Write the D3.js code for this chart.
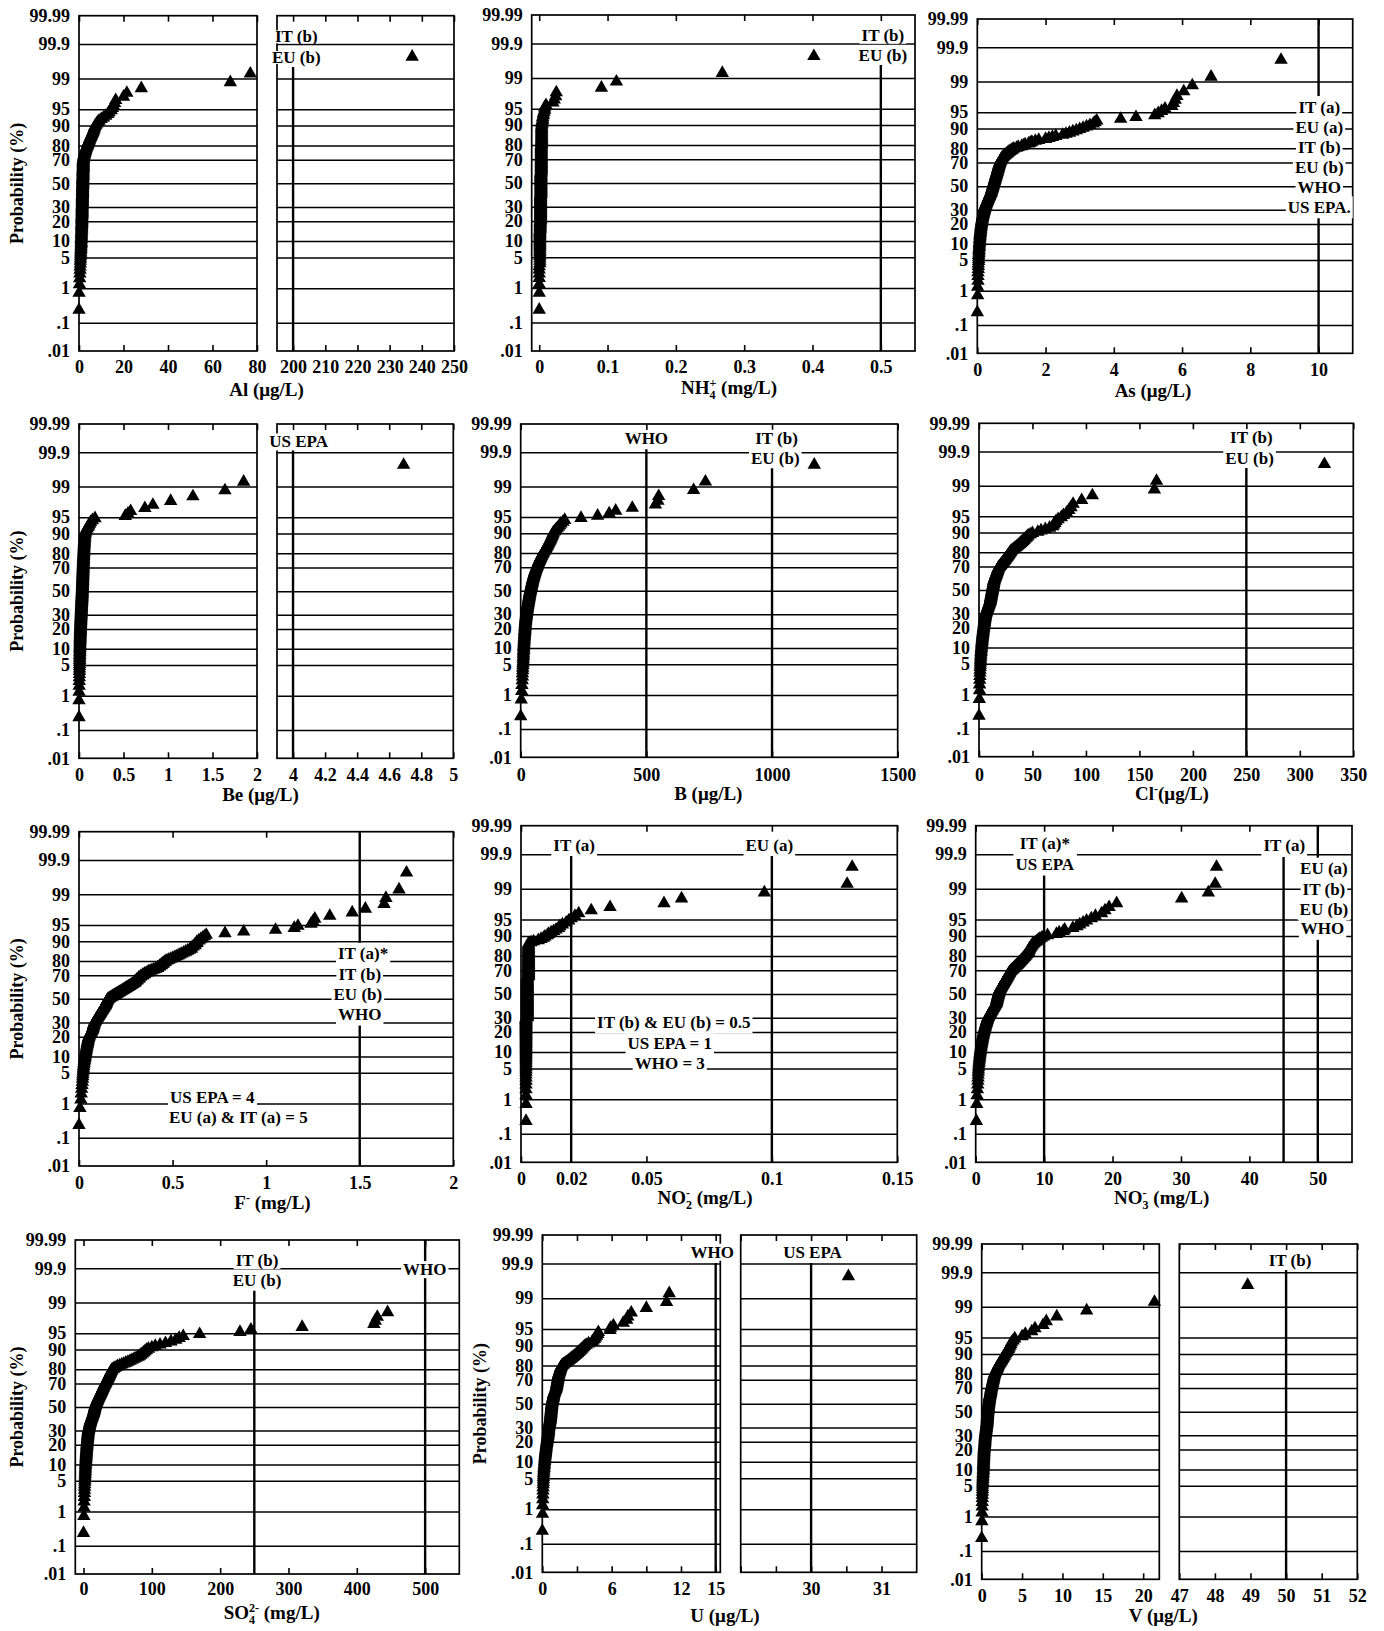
<!DOCTYPE html>
<html lang="en">
<head>
<meta charset="UTF-8">
<title>Normal probability plots</title>
<script src="https://cdnjs.cloudflare.com/ajax/libs/d3/7.8.5/d3.min.js"></script>
<style>
  body { margin: 0; background: #fff; }
  svg text { font-family: "Liberation Serif", "DejaVu Serif", serif; font-weight: bold; fill: #000; }
  .grid line { stroke: #000; stroke-width: 1.5; }
  .tickmark line { stroke: #000; stroke-width: 1.6; }
  .frame { fill: none; stroke: #000; stroke-width: 1.7; }
  .limit { stroke: #000; stroke-width: 2.4; }
</style>
</head>
<body>
<div id="chart"></div>
<script>
// probability axis
const probTicks = [0.01, 0.1, 1, 5, 10, 20, 30, 50, 70, 80, 90, 95, 99, 99.9, 99.99];
const probTickLabels = [".01", ".1", "1", "5", "10", "20", "30", "50", "70", "80", "90", "95", "99", "99.9", "99.99"];

// sorted sample values, 200 samples per parameter
const alValues = [
  0,0.05,0.2,0.3,0.4,0.5,0.5,0.6,0.6,0.7, 0.7,0.8,0.8,0.8,0.9,0.9,0.9,1.0,1.0,1.0,
  1.0,1.0,1.0,1.1,1.1,1.1,1.1,1.1,1.1,1.2, 1.2,1.2,1.2,1.2,1.2,1.2,1.2,1.3,1.3,1.3,
  1.3,1.3,1.3,1.3,1.3,1.3,1.3,1.3,1.4,1.4, 1.4,1.4,1.4,1.4,1.4,1.4,1.4,1.4,1.4,1.4,
  1.4,1.4,1.4,1.5,1.5,1.5,1.5,1.5,1.5,1.5, 1.5,1.5,1.5,1.5,1.5,1.5,1.5,1.5,1.5,1.5,
  1.6,1.6,1.6,1.6,1.6,1.6,1.6,1.6,1.6,1.6, 1.6,1.6,1.6,1.6,1.6,1.6,1.7,1.7,1.7,1.7,
  1.7,1.7,1.7,1.7,1.7,1.7,1.7,1.7,1.7,1.7, 1.7,1.8,1.8,1.8,1.8,1.8,1.8,1.8,1.8,1.8,
  1.8,1.8,1.8,1.8,1.8,1.8,1.9,1.9,1.9,1.9, 1.9,1.9,1.9,1.9,1.9,1.9,1.9,1.9,1.9,1.9,
  2.0,2.0,2.1,2.1,2.2,2.2,2.3,2.3,2.4,2.5, 2.6,2.7,2.8,2.9,3.0,3.1,3.2,3.3,3.5,3.7,
  3.8,3.9,4.0,4.2,4.4,4.5,4.7,4.8,5.0,5.2, 5.4,5.6,5.8,6.0,6.2,6.4,6.6,6.8,7.0,7.2,
  7.6,8.0,8.5,9.0,10.0,11.0,12.0,13.0,13.5,14.5, 15.0,15.5,16.0,16.5,20.0,21.5,28.0,68.0,77.0,237.0
];
const nh4Values = [
  0,0,0,0,0,0,0,0.001,0.001,0.001, 0.001,0.001,0.001,0.001,0.001,0.001,0.001,0.001,0.001,0.001,
  0.001,0.001,0.001,0.001,0.001,0.001,0.001,0.001,0.001,0.001, 0.0015,0.0015,0.0015,0.0015,0.0015,0.0015,0.0015,0.0015,0.0015,0.0015,
  0.002,0.002,0.002,0.002,0.002,0.002,0.002,0.002,0.002,0.002, 0.002,0.002,0.002,0.002,0.002,0.002,0.002,0.002,0.002,0.002,
  0.002,0.002,0.002,0.002,0.002,0.002,0.002,0.002,0.002,0.002, 0.002,0.002,0.002,0.002,0.002,0.002,0.002,0.002,0.002,0.002,
  0.0025,0.0025,0.0025,0.0025,0.0025,0.0025,0.0025,0.0025,0.0025,0.0025, 0.0025,0.0025,0.0025,0.0025,0.0025,0.0025,0.0025,0.0025,0.0025,0.0025,
  0.0025,0.0025,0.0025,0.0025,0.0025,0.0025,0.0025,0.0025,0.0025,0.0025, 0.0025,0.0025,0.0025,0.0025,0.0025,0.0025,0.0025,0.0025,0.0025,0.0025,
  0.003,0.003,0.003,0.003,0.003,0.003,0.003,0.003,0.003,0.003, 0.003,0.003,0.003,0.003,0.003,0.003,0.003,0.003,0.003,0.003,
  0.003,0.003,0.003,0.003,0.003,0.003,0.003,0.003,0.003,0.003, 0.003,0.003,0.003,0.003,0.003,0.003,0.003,0.003,0.003,0.003,
  0.0035,0.0035,0.0035,0.0035,0.0035,0.0035,0.0035,0.0035,0.0035,0.0035, 0.0035,0.0035,0.0035,0.0035,0.0035,0.0035,0.0035,0.0035,0.0035,0.0035,
  0.004,0.004,0.004,0.005,0.005,0.005,0.006,0.006,0.007,0.008, 0.008,0.010,0.020,0.022,0.024,0.025,0.091,0.113,0.268,0.402
];
const asValues = [
  0,0.01,0.01,0.02,0.02,0.02,0.03,0.03,0.03,0.04, 0.04,0.04,0.04,0.05,0.05,0.05,0.05,0.06,0.06,0.06,
  0.06,0.07,0.07,0.07,0.07,0.08,0.08,0.08,0.08,0.09, 0.09,0.09,0.10,0.10,0.10,0.10,0.11,0.11,0.11,0.12,
  0.12,0.12,0.13,0.13,0.13,0.14,0.14,0.15,0.15,0.15, 0.16,0.16,0.17,0.17,0.18,0.18,0.19,0.19,0.20,0.20,
  0.21,0.21,0.22,0.22,0.23,0.23,0.24,0.25,0.25,0.26, 0.27,0.27,0.28,0.29,0.29,0.30,0.31,0.32,0.32,0.33,
  0.34,0.35,0.35,0.36,0.37,0.37,0.38,0.39,0.40,0.40, 0.41,0.41,0.42,0.42,0.43,0.43,0.44,0.44,0.45,0.45,
  0.46,0.46,0.47,0.47,0.48,0.48,0.49,0.49,0.50,0.50, 0.51,0.51,0.52,0.52,0.53,0.53,0.54,0.54,0.55,0.55,
  0.56,0.56,0.57,0.57,0.58,0.58,0.59,0.59,0.60,0.60, 0.61,0.61,0.62,0.62,0.63,0.63,0.64,0.64,0.65,0.66,
  0.66,0.67,0.68,0.69,0.70,0.71,0.72,0.74,0.76,0.78, 0.80,0.82,0.85,0.88,0.90,0.93,0.96,1.00,1.03,1.07,
  1.15,1.2,1.3,1.35,1.4,1.5,1.55,1.6,1.7,1.8, 2.0,2.1,2.2,2.3,2.5,2.6,2.7,2.8,2.9,3.0,
  3.1,3.2,3.3,3.4,3.45,3.5,4.2,4.65,5.2,5.3, 5.4,5.5,5.7,5.75,5.8,5.85,6.05,6.3,6.85,8.9
];
const beValues = [
  0,0,0.001,0.002,0.003,0.004,0.005,0.005,0.006,0.006, 0.007,0.007,0.008,0.008,0.008,0.009,0.009,0.009,0.010,0.010,
  0.010,0.010,0.011,0.011,0.011,0.012,0.012,0.012,0.013,0.013, 0.013,0.014,0.014,0.014,0.015,0.015,0.015,0.016,0.016,0.016,
  0.017,0.017,0.017,0.018,0.018,0.018,0.019,0.019,0.019,0.020, 0.020,0.020,0.021,0.021,0.021,0.022,0.022,0.022,0.023,0.023,
  0.023,0.024,0.024,0.024,0.025,0.025,0.025,0.026,0.026,0.026, 0.027,0.027,0.027,0.028,0.028,0.028,0.029,0.029,0.029,0.030,
  0.030,0.030,0.031,0.031,0.031,0.032,0.032,0.032,0.033,0.033, 0.033,0.034,0.034,0.034,0.035,0.035,0.035,0.036,0.036,0.036,
  0.036,0.036,0.037,0.037,0.037,0.038,0.038,0.038,0.038,0.039, 0.039,0.039,0.039,0.040,0.040,0.040,0.040,0.041,0.041,0.041,
  0.041,0.042,0.042,0.042,0.042,0.043,0.043,0.043,0.043,0.044, 0.044,0.044,0.044,0.045,0.045,0.045,0.045,0.046,0.046,0.046,
  0.046,0.047,0.047,0.047,0.048,0.048,0.048,0.049,0.049,0.049, 0.050,0.050,0.050,0.051,0.051,0.051,0.052,0.052,0.052,0.053,
  0.053,0.054,0.054,0.055,0.055,0.056,0.056,0.057,0.057,0.058, 0.058,0.059,0.060,0.061,0.062,0.063,0.064,0.065,0.066,0.067,
  0.07,0.075,0.08,0.09,0.10,0.11,0.12,0.13,0.15,0.18, 0.52,0.55,0.58,0.74,0.83,1.03,1.28,1.64,1.85,4.69
];
const bValues = [
  0,2,4,5,6,7,7,8,8,9, 9,10,10,10,11,11,11,11,12,12,
  12,12,13,13,13,13,14,14,14,14, 15,15,15,15,16,16,16,16,17,17,
  17,17,18,18,18,18,19,19,19,19, 20,20,20,20,21,21,21,22,22,22,
  23,23,23,24,24,24,25,25,25,26, 26,26,27,27,28,28,28,29,29,30,
  30,30,31,31,32,32,32,33,33,34, 34,34,35,35,36,36,36,37,37,38,
  38,39,39,40,40,41,41,42,42,43, 43,44,44,45,45,46,46,47,47,48,
  48,49,50,50,51,52,52,53,54,54, 55,56,57,57,58,59,60,61,62,63,
  64,65,66,67,68,69,70,71,72,74, 75,76,78,79,80,82,83,85,86,88,
  90,92,94,96,98,100,102,104,106,108, 110,112,114,116,118,120,122,124,126,128,
  130,135,140,145,150,155,160,168,175,240, 306,352,378,444,536,546,549,688,735,1168
];
const clValues = [
  0,0.3,0.5,0.6,0.7,0.8,0.9,1.0,1.1,1.2, 1.3,1.4,1.5,1.6,1.7,1.8,1.9,2.0,2.1,2.2,
  2.3,2.4,2.5,2.6,2.7,2.8,2.9,3.0,3.1,3.2, 3.3,3.4,3.5,3.6,3.7,3.8,3.9,4.0,4.1,4.2,
  4.3,4.4,4.5,4.6,4.7,4.8,4.9,5.0,5.1,5.2, 5.3,5.4,5.5,5.6,5.7,5.8,5.9,6.0,6.1,6.2,
  6.4,6.6,6.8,7.0,7.2,7.4,7.6,7.8,8.0,8.2, 8.4,8.6,8.8,9.0,9.2,9.4,9.6,9.8,10.0,10.2,
  10.4,10.5,10.6,10.7,10.8,10.9,11.0,11.1,11.2,11.3, 11.4,11.5,11.6,11.7,11.8,11.9,12.0,12.1,12.2,12.3,
  12.4,12.5,12.6,12.7,12.8,12.9,13.0,13.1,13.2,13.3, 13.4,13.5,13.6,13.7,13.8,13.9,14.0,14.1,14.3,14.5,
  14.7,14.9,15.1,15.3,15.5,15.7,15.9,16.1,16.3,16.5, 16.7,16.9,17.1,17.3,17.5,17.7,17.9,18.1,18.5,19.0,
  19.5,20.0,20.5,21.0,21.5,22.0,22.5,23.0,23.5,24.0, 24.5,25.0,25.5,26.0,26.5,27.0,27.5,28.0,28.5,29.0,
  29.5,30,31,32,33,34,35,36,37,38, 39,40,41,42,43,44,45,46,48,50,
  55,58,62,66,69,70,71,72,74,77, 79,82,84,86,88,96,106,164,166,323
];
const fValues = [
  0,0.005,0.010,0.012,0.014,0.016,0.018,0.019,0.020,0.021, 0.022,0.023,0.024,0.025,0.026,0.027,0.028,0.030,0.031,0.032,
  0.033,0.034,0.035,0.036,0.037,0.038,0.039,0.040,0.041,0.042, 0.043,0.044,0.045,0.046,0.047,0.048,0.049,0.050,0.051,0.052,
  0.054,0.056,0.058,0.060,0.062,0.064,0.066,0.068,0.070,0.072, 0.073,0.074,0.075,0.076,0.077,0.078,0.079,0.080,0.081,0.082,
  0.084,0.086,0.088,0.090,0.092,0.094,0.096,0.098,0.100,0.102, 0.104,0.106,0.108,0.110,0.112,0.114,0.116,0.118,0.120,0.122,
  0.124,0.126,0.128,0.130,0.132,0.134,0.136,0.138,0.140,0.142, 0.143,0.144,0.145,0.146,0.147,0.148,0.150,0.152,0.154,0.156,
  0.16,0.165,0.17,0.175,0.18,0.185,0.19,0.195,0.20,0.205, 0.21,0.215,0.22,0.225,0.23,0.235,0.24,0.245,0.25,0.255,
  0.26,0.265,0.27,0.275,0.28,0.285,0.29,0.295,0.30,0.30, 0.30,0.31,0.31,0.31,0.32,0.32,0.32,0.33,0.33,0.34,
  0.34,0.35,0.35,0.36,0.37,0.37,0.38,0.39,0.40,0.41, 0.42,0.42,0.43,0.43,0.44,0.44,0.45,0.45,0.46,0.46,
  0.47,0.48,0.49,0.50,0.51,0.52,0.53,0.54,0.55,0.56, 0.57,0.58,0.59,0.60,0.60,0.61,0.62,0.62,0.63,0.63,
  0.64,0.65,0.66,0.67,0.68,0.78,0.88,1.05,1.15,1.17, 1.24,1.25,1.26,1.34,1.46,1.53,1.63,1.64,1.71,1.75
];
const no2Values = [
  0.002,0.002,0.002,0.002,0.002,0.002,0.002,0.002,0.002,0.002, 0.002,0.002,0.002,0.002,0.002,0.002,0.002,0.002,0.002,0.002,
  0.002,0.002,0.002,0.002,0.002,0.002,0.002,0.002,0.002,0.002, 0.002,0.002,0.002,0.002,0.002,0.002,0.002,0.002,0.002,0.002,
  0.002,0.002,0.002,0.002,0.002,0.002,0.002,0.002,0.002,0.002, 0.002,0.002,0.002,0.002,0.002,0.002,0.002,0.002,0.002,0.002,
  0.0025,0.0025,0.0025,0.0025,0.0025,0.0025,0.0025,0.0025,0.0025,0.0025, 0.0025,0.0025,0.0025,0.0025,0.0025,0.0025,0.0025,0.0025,0.0025,0.0025,
  0.0025,0.0025,0.0025,0.0025,0.0025,0.0025,0.0025,0.0025,0.0025,0.0025, 0.0025,0.0025,0.0025,0.0025,0.0025,0.0025,0.0025,0.0025,0.0025,0.0025,
  0.0025,0.0025,0.0025,0.0025,0.0025,0.0025,0.0025,0.0025,0.0025,0.0025, 0.0025,0.0025,0.0025,0.0025,0.0025,0.0025,0.0025,0.0025,0.0025,0.0025,
  0.0025,0.0025,0.0025,0.0025,0.0025,0.0025,0.0025,0.0025,0.0025,0.0025, 0.003,0.003,0.003,0.003,0.003,0.003,0.003,0.003,0.003,0.003,
  0.003,0.003,0.003,0.003,0.003,0.003,0.003,0.003,0.003,0.003, 0.003,0.003,0.003,0.003,0.003,0.003,0.003,0.003,0.003,0.003,
  0.003,0.003,0.003,0.003,0.003,0.003,0.003,0.003,0.003,0.003, 0.003,0.003,0.003,0.003,0.004,0.005,0.0069,0.008,0.009,0.0095,
  0.0105,0.011,0.012,0.013,0.014,0.015,0.0155,0.0165,0.018,0.019, 0.020,0.0215,0.023,0.028,0.0355,0.057,0.064,0.097,0.130,0.132
];
const no3Values = [
  0.1,0.15,0.2,0.25,0.3,0.32,0.34,0.36,0.38,0.40, 0.42,0.45,0.48,0.50,0.52,0.55,0.58,0.60,0.62,0.65,
  0.68,0.70,0.72,0.75,0.78,0.80,0.82,0.85,0.88,0.90, 0.92,0.95,0.98,1.0,1.02,1.05,1.08,1.10,1.12,1.15,
  1.18,1.21,1.24,1.27,1.30,1.33,1.36,1.39,1.42,1.45, 1.48,1.51,1.54,1.57,1.60,1.63,1.66,1.69,1.72,1.75,
  1.80,1.85,1.90,1.95,2.0,2.05,2.1,2.15,2.2,2.25, 2.3,2.35,2.4,2.45,2.5,2.55,2.6,2.65,2.7,2.75,
  2.8,2.85,2.9,2.95,3.0,3.0,3.05,3.05,3.1,3.1, 3.1,3.15,3.15,3.2,3.2,3.2,3.25,3.25,3.3,3.3,
  3.35,3.35,3.4,3.4,3.45,3.45,3.5,3.5,3.55,3.6, 3.65,3.7,3.75,3.8,3.85,3.9,3.95,4.0,4.05,4.1,
  4.15,4.2,4.25,4.3,4.35,4.4,4.45,4.5,4.55,4.6, 4.65,4.7,4.75,4.8,4.85,4.9,4.95,5.0,5.1,5.2,
  5.3,5.4,5.5,5.6,5.7,5.8,5.9,6.0,6.1,6.2, 6.3,6.4,6.5,6.6,6.7,6.8,6.9,7.0,7.1,7.2,
  7.3,7.4,7.5,7.6,7.7,7.7,7.8,7.8,7.9,8.0, 8.1,8.2,8.3,8.5,8.7,8.9,9.1,9.3,9.6,9.9,
  10.5,11.8,12.2,12.8,13.0,14.2,14.8,15.2,15.7,16.2, 16.9,17.5,18.4,18.9,19.5,20.6,30.1,34.0,35.0,35.2
];
// the three largest sulphate values lie beyond the drawn axis (> 550 mg/L)
const so4Values = [
  0,0.5,0.8,1.0,1.2,1.4,1.5,1.6,1.8,2.0, 2.1,2.2,2.3,2.4,2.5,2.6,2.7,2.8,2.9,3.0,
  3.1,3.2,3.3,3.4,3.5,3.6,3.7,3.8,3.9,4.0, 4.1,4.2,4.3,4.4,4.5,4.6,4.7,4.8,4.9,5.0,
  5.1,5.2,5.3,5.4,5.5,5.6,5.7,5.8,5.9,6.0, 6.1,6.2,6.3,6.4,6.5,6.6,6.7,6.8,6.9,7.0,
  7.2,7.4,7.6,7.8,8.0,8.2,8.4,8.6,8.8,9.0, 9.2,9.4,9.6,9.8,10.0,10.3,10.6,10.9,11.2,11.5,
  11.8,12.1,12.4,12.7,13.0,13.3,13.6,13.9,14.2,14.5, 14.8,15.0,15.2,15.4,15.6,15.8,16.0,16.2,16.4,16.6,
  16.8,17.0,17.3,17.6,17.9,18.2,18.5,18.8,19.1,19.4, 19.7,20.0,20.4,20.8,21.2,21.6,22.0,22.4,22.8,23.2,
  23.6,24.0,24.4,24.8,25.2,25.6,26.0,26.4,26.8,27.2, 27.6,28.0,28.4,28.8,29.2,29.6,30.0,30.5,31.0,31.5,
  32,32.5,33,33.5,34,34.5,35,35.5,36,36.5, 37,37.5,38,38.5,39,39.5,40,40.5,41,42,
  44,46,48,50,53,56,59,62,65,68, 71,74,77,80,82,84,86,88,90,92,
  95,100,105,112,120,128,135,140,146,170, 229,245,320,425,427,430,445,560,600,700
];
const uValues = [
  0,0.02,0.03,0.04,0.05,0.06,0.07,0.08,0.09,0.10, 0.10,0.11,0.12,0.13,0.14,0.15,0.16,0.17,0.18,0.19,
  0.20,0.21,0.22,0.23,0.24,0.25,0.26,0.27,0.28,0.29, 0.30,0.31,0.32,0.33,0.34,0.35,0.36,0.37,0.38,0.39,
  0.40,0.41,0.42,0.43,0.44,0.45,0.46,0.47,0.48,0.49, 0.50,0.51,0.52,0.52,0.53,0.53,0.54,0.54,0.55,0.55,
  0.56,0.57,0.58,0.59,0.60,0.61,0.62,0.63,0.64,0.65, 0.66,0.67,0.68,0.69,0.70,0.70,0.71,0.71,0.72,0.72,
  0.73,0.73,0.74,0.74,0.75,0.75,0.76,0.76,0.77,0.77, 0.78,0.78,0.79,0.79,0.80,0.80,0.81,0.81,0.82,0.82,
  0.83,0.84,0.85,0.86,0.87,0.88,0.89,0.90,0.91,0.92, 0.93,0.94,0.95,0.96,0.97,0.98,0.99,1.00,1.02,1.04,
  1.06,1.08,1.10,1.12,1.14,1.16,1.18,1.20,1.21,1.22, 1.23,1.24,1.25,1.26,1.27,1.28,1.29,1.30,1.31,1.32,
  1.33,1.34,1.35,1.36,1.37,1.38,1.39,1.40,1.42,1.44, 1.46,1.48,1.50,1.52,1.54,1.56,1.58,1.60,1.64,1.68,
  1.75,1.85,1.95,2.05,2.15,2.25,2.35,2.45,2.55,2.65, 2.75,2.85,2.95,3.05,3.15,3.25,3.35,3.45,3.55,3.65,
  3.8,4.0,4.3,4.4,4.5,4.6,4.7,4.8,4.85,5.86, 5.9,6.15,7.0,7.3,7.4,7.7,9.0,10.75,10.98,30.53
];
const vValues = [
  0,0.02,0.04,0.05,0.06,0.07,0.08,0.09,0.10,0.10, 0.11,0.12,0.13,0.14,0.15,0.16,0.17,0.18,0.19,0.20,
  0.20,0.21,0.21,0.22,0.22,0.23,0.23,0.24,0.24,0.25, 0.25,0.26,0.26,0.27,0.27,0.28,0.28,0.29,0.29,0.30,
  0.30,0.31,0.32,0.33,0.34,0.35,0.36,0.37,0.38,0.39, 0.39,0.40,0.40,0.41,0.41,0.42,0.42,0.43,0.43,0.44,
  0.45,0.46,0.47,0.48,0.49,0.50,0.51,0.52,0.53,0.54, 0.55,0.56,0.57,0.58,0.59,0.60,0.61,0.62,0.63,0.64,
  0.65,0.66,0.66,0.67,0.67,0.68,0.68,0.69,0.69,0.70, 0.70,0.71,0.71,0.72,0.72,0.73,0.73,0.74,0.74,0.75,
  0.76,0.77,0.78,0.79,0.80,0.80,0.81,0.81,0.82,0.82, 0.83,0.84,0.85,0.86,0.87,0.88,0.89,0.90,0.91,0.92,
  0.93,0.94,0.95,0.96,0.97,0.98,0.99,1.00,1.02,1.04, 1.06,1.08,1.10,1.11,1.12,1.13,1.14,1.15,1.16,1.17,
  1.19,1.21,1.23,1.25,1.27,1.29,1.31,1.33,1.35,1.37, 1.39,1.41,1.43,1.45,1.47,1.49,1.51,1.53,1.55,1.57,
  1.62,1.67,1.72,1.77,1.82,1.87,1.92,1.97,2.02,2.07, 2.15,2.23,2.31,2.39,2.47,2.55,2.63,2.71,2.80,2.90,
  3.0,3.1,3.2,3.3,3.4,3.5,3.6,3.7,3.9,4.1, 5.0,5.4,6.2,6.6,7.6,8.0,9.3,13.0,21.4,48.92
];

// inverse of the standard normal CDF (Acklam)
function probit(p) {
  const a = [-3.969683028665376e+01, 2.209460984245205e+02, -2.759285104469687e+02, 1.383577518672690e+02, -3.066479806614716e+01, 2.506628277459239e+00];
  const b = [-5.447609879822406e+01, 1.615858368580409e+02, -1.556989798598866e+02, 6.680131188771972e+01, -1.328068155288572e+01];
  const c = [-7.784894002430293e-03, -3.223964580411365e-01, -2.400758277161838e+00, -2.549732539343734e+00, 4.374664141464968e+00, 2.938163982698783e+00];
  const d = [7.784695709041462e-03, 3.224671290700398e-01, 2.445134137142996e+00, 3.754408661907416e+00];
  const plow = 0.02425;
  let q, r;
  if (p < plow) {
    q = Math.sqrt(-2 * Math.log(p));
    return (((((c[0]*q+c[1])*q+c[2])*q+c[3])*q+c[4])*q+c[5]) / ((((d[0]*q+d[1])*q+d[2])*q+d[3])*q+1);
  }
  if (p <= 1 - plow) {
    q = p - 0.5; r = q * q;
    return (((((a[0]*r+a[1])*r+a[2])*r+a[3])*r+a[4])*r+a[5])*q / (((((b[0]*r+b[1])*r+b[2])*r+b[3])*r+b[4])*r+1);
  }
  q = Math.sqrt(-2 * Math.log(1 - p));
  return -(((((c[0]*q+c[1])*q+c[2])*q+c[3])*q+c[4])*q+c[5]) / ((((d[0]*q+d[1])*q+d[2])*q+d[3])*q+1);
}

const mu = "\u03bcg/L";
// inset: how much the white label boxes are trimmed top and bottom (negative = grown)
const panels = [
  { values: alValues, top: 15.7, bottom: 351, tickDy: 22, titleDy: 45, titleX: 266.5, yTitle: 17, inset: 3,
    title: ["Al (" + mu + ")"],
    subs: [{ x0: 79, x1: 257, domain: [0, 80], ticks: [0, 20, 40, 60, 80] },
           { x0: 277, x1: 454, domain: [195, 250], ticks: [200, 210, 220, 230, 240, 250] }],
    limits: [{ s: 1, x: 200, z: 2.58 }],
    notes: [{ s: 1, x: 201, z: 3.26, text: "IT (b)" }, { s: 1, x: 201, z: 2.80, text: "EU (b)" }] },
  { values: nh4Values, top: 15, bottom: 351, tickDy: 22, titleDy: 43, titleX: 729, inset: 1,
    title: ["NH", { sub: "4", sup: "+" }, " (mg/L)"],
    subs: [{ x0: 531.7, x1: 915, domain: [-0.011, 0.55], ticks: [0, 0.1, 0.2, 0.3, 0.4, 0.5] }],
    limits: [{ x: 0.5, z: 2.61 }],
    notes: [{ x: 0.503, z: 3.28, text: "IT (b)" }, { x: 0.503, z: 2.83, text: "EU (b)" }] },
  { values: asValues, top: 19, bottom: 353.3, tickDy: 23, titleDy: 44, titleX: 1153, inset: -1.5,
    title: ["As (" + mu + ")"],
    subs: [{ x0: 977.3, x1: 1352.7, domain: [0, 11], ticks: [0, 2, 4, 6, 8, 10] }],
    limits: [{ x: 10 }],
    notes: [{ x: 10.02, z: 1.77, text: "IT (a)" }, { x: 10.02, z: 1.32, text: "EU (a)" },
            { x: 10.02, z: 0.87, text: "IT (b)" }, { x: 10.02, z: 0.43, text: "EU (b)" },
            { x: 10.02, z: -0.01, text: "WHO" }, { x: 10.02, z: -0.46, text: "US EPA." }] },
  { values: beValues, top: 424, bottom: 758.3, tickDy: 23, titleDy: 43, titleX: 260.5, yTitle: 17, inset: 1,
    title: ["Be (" + mu + ")"],
    subs: [{ x0: 79, x1: 257, domain: [0, 2], ticks: [0, 0.5, 1, 1.5, 2] },
           { x0: 277, x1: 453.3, domain: [3.9, 5], ticks: [4, 4.2, 4.4, 4.6, 4.8, 5] }],
    limits: [{ s: 1, x: 4, z: 3.14 }],
    notes: [{ s: 1, x: 4.035, z: 3.33, text: "US EPA" }] },
  { values: bValues, top: 424, bottom: 757.3, tickDy: 24, titleDy: 43, titleX: 708.3, inset: 1,
    title: ["B (" + mu + ")"],
    subs: [{ x0: 520.7, x1: 897.7, domain: [0, 1500], ticks: [0, 500, 1000, 1500] }],
    limits: [{ x: 500, z: 3.155 }, { x: 1000, z: 2.73 }],
    notes: [{ x: 500, z: 3.40, text: "WHO" }, { x: 1018, z: 3.41, text: "IT (b)" }, { x: 1013, z: 2.97, text: "EU (b)" }] },
  { values: clValues, top: 423.3, bottom: 756.7, tickDy: 24, titleDy: 43, titleX: 1172, inset: 1,
    title: ["Cl", { sup: "-" }, "(" + mu + ")"],
    subs: [{ x0: 979, x1: 1353.3, domain: [0, 350], ticks: [0, 50, 100, 150, 200, 250, 300, 350] }],
    limits: [{ x: 250, z: 2.72 }],
    notes: [{ x: 254.7, z: 3.41, text: "IT (b)" }, { x: 253, z: 2.95, text: "EU (b)" }] },
  { values: fValues, top: 831.7, bottom: 1166, tickDy: 23.5, titleDy: 43, titleX: 272.5, yTitle: 17, inset: -1.5,
    title: ["F", { sup: "-" }, " (mg/L)"],
    subs: [{ x0: 79, x1: 453.3, domain: [0, 2], ticks: [0, 0.5, 1, 1.5, 2] }],
    limits: [{ x: 1.5 }],
    notes: [{ x: 1.518, z: 1.01, text: "IT (a)*" }, { x: 1.5, z: 0.55, text: "IT (b)" },
            { x: 1.49, z: 0.11, text: "EU (b)" }, { x: 1.5, z: -0.34, text: "WHO" },
            { x: 0.712, z: -2.18, text: "US EPA = 4" }, { x: 0.851, z: -2.62, text: "EU (a) & IT (a) = 5" }] },
  { values: no2Values, top: 825.7, bottom: 1162.3, tickDy: 23, titleDy: 42, titleX: 705, inset: -1,
    title: ["NO", { sub: "2", sup: "-" }, " (mg/L)"],
    subs: [{ x0: 521, x1: 897.3, domain: [0, 0.15], ticks: [0, 0.05, 0.1, 0.15], labels: [0, 0.02, 0.05, 0.1, 0.15] }],
    limits: [{ x: 0.02, z: 3.05 }, { x: 0.1, z: 3.05 }],
    notes: [{ x: 0.0212, z: 3.29, text: "IT (a)" }, { x: 0.099, z: 3.29, text: "EU (a)" },
            { x: 0.0609, z: -0.63, text: "IT (b) & EU (b) = 0.5" }, { x: 0.0593, z: -1.09, text: "US EPA = 1" },
            { x: 0.0593, z: -1.53, text: "WHO = 3" }] },
  { values: no3Values, top: 825.7, bottom: 1162.3, tickDy: 23, titleDy: 42, titleX: 1161.7, inset: -1.5,
    title: ["NO", { sub: "3", sup: "-" }, " (mg/L)"],
    subs: [{ x0: 975.7, x1: 1352, domain: [0, 55], ticks: [0, 10, 20, 30, 40, 50] }],
    limits: [{ x: 10, z: 2.67 }, { x: 45, z: 3.03 }, { x: 50 }],
    notes: [{ x: 10.1, z: 3.33, text: "IT (a)*" }, { x: 10.1, z: 2.87, text: "US EPA" },
            { x: 45.1, z: 3.29, text: "IT (a)" }, { x: 50.9, z: 2.78, text: "EU (a)" },
            { x: 50.9, z: 2.32, text: "IT (b)" }, { x: 50.9, z: 1.88, text: "EU (b)" },
            { x: 50.7, z: 1.45, text: "WHO" }] },
  { values: so4Values, top: 1240, bottom: 1574, tickDy: 21, titleDy: 45, titleX: 271.7, yTitle: 17, inset: 1,
    title: ["SO", { sub: "4", sup: "2-" }, " (mg/L)"],
    subs: [{ x0: 75.3, x1: 459.3, domain: [-12, 550], ticks: [0, 100, 200, 300, 400, 500] }],
    limits: [{ x: 250, z: 2.59 }, { x: 500 }],
    notes: [{ x: 254, z: 3.27, text: "IT (b)" }, { x: 254, z: 2.83, text: "EU (b)" }, { x: 499.5, z: 3.07, text: "WHO" }] },
  { values: uValues, top: 1235, bottom: 1572.3, tickDy: 23, titleDy: 50, titleX: 725, yTitle: 479.3, inset: 1,
    title: ["U (" + mu + ")"],
    subs: [{ x0: 542.3, x1: 720.3, domain: [0, 15.4], ticks: [0, 3, 6, 9, 12, 15], labels: [0, 6, 12, 15] },
           { x0: 740.7, x1: 916.7, domain: [29, 31.5], ticks: [29, 29.5, 30, 30.5, 31], labels: [30, 31] }],
    limits: [{ s: 0, x: 15, z: 3.1 }, { s: 1, x: 30, z: 3.1 }],
    notes: [{ s: 0, x: 14.7, z: 3.35, text: "WHO" }, { s: 1, x: 30.02, z: 3.35, text: "US EPA" }] },
  { values: vValues, top: 1244, bottom: 1579.3, tickDy: 23, titleDy: 43, titleX: 1163.3, inset: 1,
    title: ["V (" + mu + ")"],
    subs: [{ x0: 981.7, x1: 1159.3, domain: [0, 22], ticks: [0, 5, 10, 15, 20] },
           { x0: 1179.3, x1: 1357.3, domain: [47, 52], ticks: [47, 48, 49, 50, 51, 52] }],
    limits: [{ s: 1, x: 50, z: 3.14 }],
    notes: [{ s: 1, x: 50.11, z: 3.37, text: "IT (b)" }] }
];

const svg = d3.select("#chart").append("svg")
  .attr("width", 1384).attr("height", 1631)
  .style("background", "#fff");

const zMin = probit(0.0001), zMax = probit(0.9999);
const gridZ = probTicks.slice(1, -1).map(p => probit(p / 100));
const tickZ = probTicks.map(p => probit(p / 100));
const triangle = d3.symbol(d3.symbolTriangle, 78);

function drawTitle(g, parts, x, y) {
  const t = g.append("text").attr("x", x).attr("y", y)
    .attr("text-anchor", "middle").style("font-size", "19px");
  let shift = 0, padX = 0;
  parts.forEach(part => {
    if (typeof part === "string") {
      t.append("tspan").attr("dx", padX).attr("dy", -shift).text(part);
      shift = 0; padX = 0;
    } else {
      let w = 0;
      if (part.sub) {
        const sb = t.append("tspan").attr("dy", 5 - shift).style("font-size", "12px").text(part.sub);
        w = sb.node().getComputedTextLength();
        shift = 5;
      }
      if (part.sup) {
        const sp = t.append("tspan").attr("dx", -w).attr("dy", -7 - shift).style("font-size", "12px").text(part.sup);
        padX = Math.max(0, w - sp.node().getComputedTextLength());
        shift = -7;
      }
    }
  });
}

panels.forEach(pn => {
  const g = svg.append("g");
  const y = d3.scaleLinear().domain([zMin, zMax]).range([pn.bottom, pn.top]);
  const xs = pn.subs.map(s => d3.scaleLinear().domain(s.domain).range([s.x0, s.x1]));

  pn.subs.forEach((s, k) => {
    // horizontal probability grid
    const grid = g.append("g").attr("class", "grid")
      .attr("transform", `translate(${s.x0},0)`)
      .call(d3.axisLeft(y).tickValues(gridZ).tickSize(-(s.x1 - s.x0)).tickFormat(""));
    grid.select(".domain").remove();

    g.append("rect").attr("class", "frame")
      .attr("x", s.x0).attr("y", pn.top)
      .attr("width", s.x1 - s.x0).attr("height", pn.bottom - pn.top);

    // inward tick marks top and bottom
    const tb = g.append("g").attr("class", "tickmark").attr("transform", `translate(0,${pn.bottom})`)
      .call(d3.axisBottom(xs[k]).tickValues(s.ticks).tickSizeInner(-6).tickSizeOuter(0).tickFormat(""));
    tb.select(".domain").remove();
    const tt = g.append("g").attr("class", "tickmark").attr("transform", `translate(0,${pn.top})`)
      .call(d3.axisTop(xs[k]).tickValues(s.ticks).tickSizeInner(-6).tickSizeOuter(0).tickFormat(""));
    tt.select(".domain").remove();

    // x tick labels
    const xl = g.append("g").attr("transform", `translate(0,${pn.bottom})`)
      .call(d3.axisBottom(xs[k]).tickValues(s.labels || s.ticks).tickSize(0)
        .tickPadding(pn.tickDy - 12.8).tickFormat(d => String(d)));
    xl.select(".domain").remove();
    xl.selectAll("text").style("font-size", "18px");
  });

  // probability tick labels
  const yl = g.append("g").attr("transform", `translate(${pn.subs[0].x0},0)`)
    .call(d3.axisLeft(y).tickValues(tickZ).tickSize(0).tickPadding(9)
      .tickFormat((d, i) => probTickLabels[i]));
  yl.select(".domain").remove();
  yl.selectAll("text").style("font-size", "18px");

  if (pn.yTitle !== undefined) {
    g.append("text")
      .attr("transform", `translate(${pn.yTitle},${(pn.top + pn.bottom) / 2}) rotate(-90)`)
      .attr("text-anchor", "middle").attr("dy", "0.35em")
      .style("font-size", "18px").text("Probability (%)");
  }

  drawTitle(g, pn.title, pn.titleX, pn.bottom + pn.titleDy);

  // guideline limits
  pn.limits.forEach(l => {
    const px = xs[l.s || 0](l.x);
    g.append("line").attr("class", "limit")
      .attr("x1", px).attr("x2", px)
      .attr("y1", l.z === undefined ? pn.top : y(l.z)).attr("y2", pn.bottom);
  });

  // guideline labels on white boxes
  pn.notes.forEach(nt => {
    const t = g.append("text")
      .attr("x", xs[nt.s || 0](nt.x)).attr("y", y(nt.z)).attr("dy", "0.35em")
      .attr("text-anchor", "middle").style("font-size", "17px").text(nt.text);
    const bb = t.node().getBBox();
    g.insert("rect", () => t.node())
      .attr("x", bb.x - 2).attr("y", bb.y + pn.inset)
      .attr("width", bb.width + 4).attr("height", bb.height - 2 * pn.inset)
      .attr("fill", "#fff");
  });

  // sample points at Hazen plotting positions
  const n = pn.values.length;
  const pts = [];
  pn.values.forEach((v, i) => {
    const k = pn.subs.findIndex(s => v >= s.domain[0] && v <= s.domain[1]);
    if (k >= 0) pts.push({ v, k, p: (i + 0.5) / n });
  });
  g.selectAll("path.pt").data(pts).join("path")
    .attr("class", "pt")
    .attr("d", triangle)
    .attr("fill", "#000")
    .attr("transform", d => `translate(${xs[d.k](d.v)},${y(probit(d.p))})`);
});
</script>
</body>
</html>
